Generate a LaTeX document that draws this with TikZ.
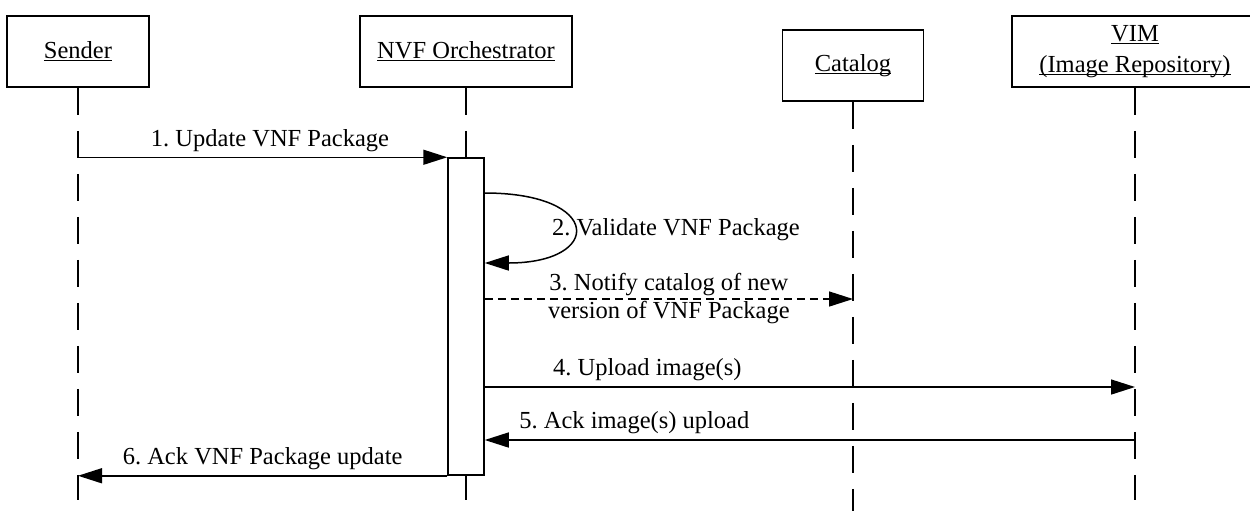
\documentclass[tikz,border=0pt]{standalone}
\usepackage{fontspec}
\setmainfont{Liberation Serif}
\usetikzlibrary{arrows.meta}

\newcommand{\uname}[1]{\setbox0=\hbox{#1}\rlap{\rule[-1.4pt]{\wd0}{0.5pt}}\box0}

\begin{document}
\frenchspacing
\begin{tikzpicture}[x=0.5pt,y=-0.5pt,
	font=\fontsize{12.25}{15.5}\selectfont,
	line width=0.75pt,
	obj/.style={draw,minimum height=35.5pt,inner sep=0pt,align=center},
	life/.style={dash pattern=on 13.5pt off 8pt},
	msg/.style={-{Triangle[length=12pt,width=7.5pt]}},
	lbl/.style={above,inner sep=2.5pt}]
	\clip (0,0) rectangle (1250,511);	%frame of the picture
	
	%OBJECTS
	\node[obj,minimum width=71pt]  (sender) at (78,51.5)   {\uname{Sender}};
	\node[obj,minimum width=106pt] (orch)   at (466,51.5)  {\uname{NVF Orchestrator}};
	\node[obj,minimum width=70.5pt](cat)    at (853,65.5)  {\uname{Catalog}};
	\node[obj,minimum width=123pt] (vim)    at (1135,51.5) {\uname{VIM}\\\uname{(Image Repository)}};
	\node[draw,minimum width=18pt,minimum height=158.5pt,inner sep=0pt] (act) at (466,316.5) {}; %activation
	
	%LIFELINES
	\foreach \n/\e in {sender/500,cat/511,vim/500}
		\draw[life] (\n.south) -- (\n |- 0,\e);
	\draw[life] (orch.south) -- (act.north);
	\draw[life] (act.south) -- (orch |- 0,500);
	
	%MESSAGES
	\draw[msg] (sender |- act.north) -- (act.north west)
		node[lbl,pos=.52] (m1) {1. Update VNF Package};
	\draw[msg] (act.east |- 0,193) .. controls (603,193) and (603,263) .. (act.east |- 0,263);
	\node (m2) at (676,230) {2. Validate VNF Package};
	\draw[msg,dash pattern=on 4pt off 2.5pt] (act.east |- 0,299) -- (cat |- 0,299)
		node[midway,align=center,font=\fontsize{12.25}{14}\selectfont] (m3)
		{3. Notify catalog of new\\version of VNF Package};
	\draw[msg] (act.east |- 0,387) -- (vim |- 0,387)
		node[lbl,pos=.25] (m4) {4. Upload image(s)};
	\draw[msg] (vim |- 0,440) -- (act.east |- 0,440)
		node[lbl,pos=.77] (m5) {5. Ack image(s) upload};
	\draw[msg] (act.south west) -- (sender |- act.south)
		node[lbl,midway] (m6) {6. Ack VNF Package update};
	
%	\draw[help lines,step=50] (0,0) grid (1250,511);
\end{tikzpicture}
\end{document}
